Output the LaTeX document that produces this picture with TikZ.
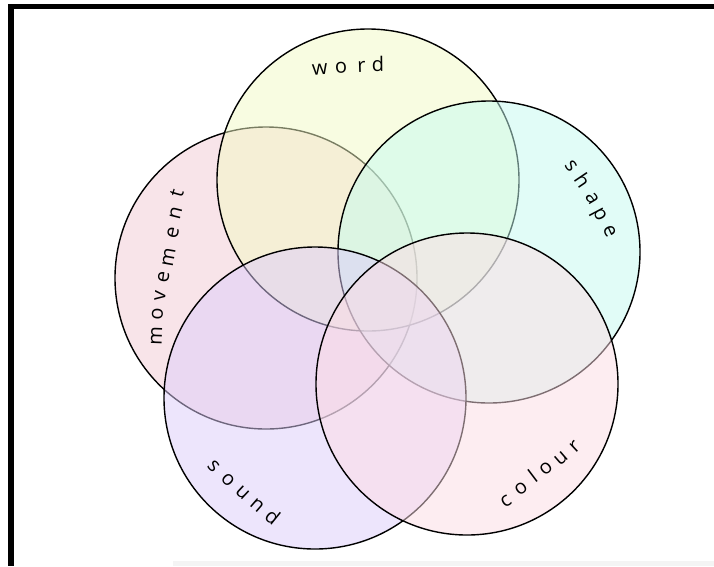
\documentclass[tikz,border=0pt]{standalone}
\usepackage{fontspec}
\newfontfamily\lblfont{Open Sans}
\definecolor{wordc}{RGB}{243,251,197}
\definecolor{shapec}{RGB}{197,251,241}
\definecolor{colourc}{RGB}{253,221,229}
\definecolor{soundc}{RGB}{221,205,251}
\definecolor{movec}{RGB}{243,203,213}
\definecolor{stripc}{RGB}{244,244,244}
\tikzset{
  venn/.style={circle, draw=black, line width=1.4pt, minimum size=302pt, inner sep=0pt, fill opacity=0.5, draw opacity=1},
  lett/.style={font=\lblfont\fontsize{20}{20}\selectfont, text=black, inner sep=0pt, anchor=base},
  frame/.style={fill=black, draw=none}
}
\newcommand{\lt}[1]{\raisebox{-.5ex}{#1}}
\begin{document}
\begin{tikzpicture}[x=1pt,y=-1pt]
\useasboundingbox (0,0) rectangle (714,566);
\fill[white] (0,0) rectangle (714,566);
\fill[stripc] (173,561) rectangle (714,566);
\fill[frame] (8.3,4) rectangle (714,9.3);
\fill[frame] (8.3,4) rectangle (14,566);
% circles
\node[venn, fill=movec]   (movement) at (266,278) {};
\node[venn, fill=wordc]   (word)     at (368,180) {};
\node[venn, fill=shapec]  (shape)    at (489,252) {};
\node[venn, fill=soundc]  (sound)    at (315,398) {};
\node[venn, fill=colourc] (colour)   at (467,384) {};
% word
\node[lett, rotate=5]   (w1) at (320,69)   {\lt{w}};
\node[lett, rotate=3.5] (w2) at (341,68)   {\lt{o}};
\node[lett, rotate=2]   (w3) at (361.5,67) {\lt{r}};
\node[lett, rotate=0.5] (w4) at (378,66)   {\lt{d}};
% shape
\node[lett, rotate=-53] (s1) at (571,166)     {\lt{s}};
\node[lett, rotate=-56] (s2) at (581,182)     {\lt{h}};
\node[lett, rotate=-59] (s3) at (592,199)     {\lt{a}};
\node[lett, rotate=-62] (s4) at (600,214)     {\lt{p}};
\node[lett, rotate=-65] (s5) at (609.5,231.5) {\lt{e}};
% colour
\node[lett, rotate=33] (c1) at (506,501) {\lt{c}};
\node[lett, rotate=35] (c2) at (521,489) {\lt{o}};
\node[lett, rotate=37] (c3) at (534,478) {\lt{l}};
\node[lett, rotate=39] (c4) at (546,469) {\lt{o}};
\node[lett, rotate=41] (c5) at (561,458) {\lt{u}};
\node[lett, rotate=43] (c6) at (575,447) {\lt{r}};
% sound
\node[lett, rotate=-47] (n1) at (213.5,466)   {\lt{s}};
\node[lett, rotate=-45] (n2) at (228,479.5)   {\lt{o}};
\node[lett, rotate=-43] (n3) at (242.5,492.5) {\lt{u}};
\node[lett, rotate=-41] (n4) at (257,505.5)   {\lt{n}};
\node[lett, rotate=-39] (n5) at (271.5,518.5) {\lt{d}};
% movement
\node[lett, rotate=88] (m1) at (156.5,336.5) {\lt{m}};
\node[lett, rotate=86] (m2) at (157.5,314)   {\lt{o}};
\node[lett, rotate=84] (m3) at (160,296)     {\lt{v}};
\node[lett, rotate=82] (m4) at (163.5,277.5) {\lt{e}};
\node[lett, rotate=80] (m5) at (169,257.5)   {\lt{m}};
\node[lett, rotate=78] (m6) at (173,233)     {\lt{e}};
\node[lett, rotate=76] (m7) at (176,213)     {\lt{n}};
\node[lett, rotate=74] (m8) at (178,194)     {\lt{t}};
\end{tikzpicture}
\end{document}
